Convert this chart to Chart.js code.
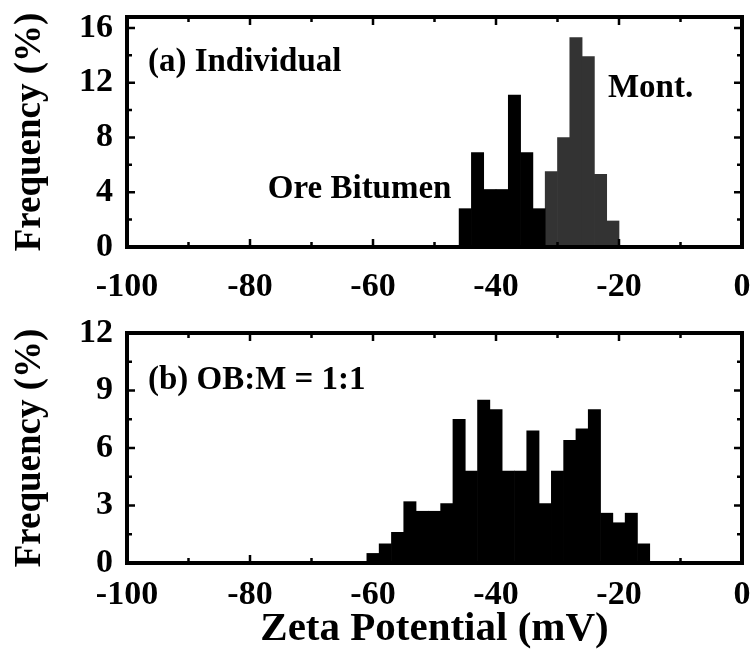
<!DOCTYPE html>
<html>
<head>
<meta charset="utf-8">
<script src="https://cdn.jsdelivr.net/npm/chart.js@4.4.0/dist/chart.umd.min.js"></script>
<style>
  body { margin: 0; background: #fff; }
  #wrap { position: relative; width: 754px; height: 672px; }
  canvas { position: absolute; left: 0; }
</style>
</head>
<body>
<div id="wrap">
  <canvas id="topPlot" width="754" height="310" style="top:0"></canvas>
  <canvas id="bottomPlot" width="754" height="362" style="top:310px"></canvas>
</div>
<script>
"use strict";
// (a) individual: bin centres (mV) and frequency (%)
const oreCentres = [-45, -43, -41, -39, -37, -35, -33];
const oreFreq = [2.8, 6.9, 4.2, 4.2, 11.1, 6.9, 2.8];
const montCentres = [-31, -29, -27, -25, -23, -21];
const montFreq = [5.5, 8.0, 15.3, 13.9, 5.3, 1.9];
// (b) OB:M = 1:1
const mixCentres = [-60, -58, -56, -54, -52, -50, -48, -46, -44, -42, -40, -38,
    -36, -34, -32, -30, -28, -26, -24, -22, -20, -18, -16];
const mixFreq = [0.5, 1.0, 1.6, 3.2, 2.7, 2.7, 3.1, 7.5, 4.8, 8.5, 8.0, 4.8,
    4.8, 6.9, 3.1, 4.8, 6.4, 7.0, 8.0, 2.6, 2.1, 2.6, 1.0];

const topNotes = [
    { text: "(a) Individual", x: -96.6, y: 13.5 },
    { text: "Mont.", x: -21.8, y: 11.6 },
    { text: "Ore Bitumen", x: -77.1, y: 4.2 },
];
const bottomNotes = [
    { text: "(b) OB:M = 1:1", x: -96.6, y: 9.5 },
];

const FONT = "'Liberation Serif', 'Times New Roman', serif";

function toPoints(xs, ys) {
    return xs.map((x, i) => ({ x: x, y: ys[i] }));
}

const frameAndTicks = {
    id: "frameAndTicks",
    afterDraw(chart) {
        const ctx = chart.ctx;
        const a = chart.chartArea;
        const xs = chart.scales.x;
        const ys = chart.scales.y;
        ctx.save();
        ctx.strokeStyle = "#000";
        ctx.lineWidth = 2.5;
        ctx.beginPath();
        const xv = xs.ticks.map((t) => t.value);
        for (let i = 0; i < xv.length; i++) {
            const list = [[xv[i], 8]];
            if (i < xv.length - 1) list.push([(xv[i] + xv[i + 1]) / 2, 5]);
            list.forEach(([v, len]) => {
                const p = xs.getPixelForValue(v);
                ctx.moveTo(p, a.bottom); ctx.lineTo(p, a.bottom - len);
                ctx.moveTo(p, a.top); ctx.lineTo(p, a.top + len);
            });
        }
        const yv = ys.ticks.map((t) => t.value);
        for (let i = 0; i < yv.length; i++) {
            const list = [[yv[i], 8]];
            if (i < yv.length - 1) list.push([(yv[i] + yv[i + 1]) / 2, 5]);
            list.forEach(([v, len]) => {
                const p = ys.getPixelForValue(v);
                ctx.moveTo(a.left, p); ctx.lineTo(a.left + len, p);
                ctx.moveTo(a.right, p); ctx.lineTo(a.right - len, p);
            });
        }
        ctx.stroke();
        ctx.lineWidth = 4;
        ctx.strokeRect(a.left, a.top, a.right - a.left, a.bottom - a.top);
        // text notes
        const notes = chart.options.plugins.notes.items;
        ctx.fillStyle = "#000";
        ctx.font = "bold 33px " + FONT;
        ctx.textAlign = "left";
        ctx.textBaseline = "middle";
        notes.forEach((n) => {
            ctx.fillText(n.text, xs.getPixelForValue(n.x), ys.getPixelForValue(n.y));
        });
        ctx.restore();
    },
};

function makeChart(id, datasets, opt) {
    const ctx = document.getElementById(id).getContext("2d");
    return new Chart(ctx, {
        type: "bar",
        data: { datasets: datasets },
        options: {
            responsive: false,
            animation: false,
            devicePixelRatio: 1,
            layout: { padding: { top: opt.top, right: 12, left: 0, bottom: 0 } },
            datasets: {
                bar: {
                    grouped: false,
                    barPercentage: 1,
                    categoryPercentage: 1,
                    borderWidth: 0,
                },
            },
            plugins: {
                legend: { display: false },
                tooltip: { enabled: false },
                notes: { items: opt.notes },
            },
            scales: {
                x: {
                    type: "linear",
                    min: -100,
                    max: 0,
                    offset: false,
                    grid: { display: false, drawTicks: false, offset: false },
                    border: { display: false },
                    ticks: {
                        stepSize: 20,
                        padding: opt.xPad,
                        color: "#000",
                        maxRotation: 0,
                        font: { family: FONT, weight: "bold", size: 34, lineHeight: 1 },
                    },
                    title: {
                        display: !!opt.xTitle,
                        text: opt.xTitle || "",
                        color: "#000",
                        padding: { top: 0, bottom: 20 },
                        font: { family: FONT, weight: "bold", size: 41, lineHeight: 1.1 },
                    },
                    afterFit: (s) => {
                        s.height = opt.xHeight;
                        s.paddingLeft = 0;
                        s.paddingRight = 0;
                    },
                },
                y: {
                    min: 0,
                    max: opt.yMax,
                    grid: { display: false, drawTicks: false },
                    border: { display: false },
                    ticks: {
                        stepSize: opt.yStep,
                        includeBounds: false,
                        padding: 14,
                        color: "#000",
                        font: { family: FONT, weight: "bold", size: 34, lineHeight: 1 },
                    },
                    title: {
                        display: true,
                        text: "Frequency (%)",
                        color: "#000",
                        padding: { top: 10, bottom: 0 },
                        font: { family: FONT, weight: "bold", size: 37, lineHeight: 1.1 },
                    },
                    afterFit: (s) => {
                        s.width = 127;
                        s.paddingTop = 0;
                        s.paddingBottom = 0;
                    },
                },
            },
        },
        plugins: [frameAndTicks],
    });
}

makeChart("topPlot", [
    { label: "Ore Bitumen", data: toPoints(oreCentres, oreFreq), backgroundColor: "#000" },
    { label: "Mont.", data: toPoints(montCentres, montFreq), backgroundColor: "#333" },
], { top: 17, xPad: 23, xHeight: 63, yMax: 16.8, yStep: 4, notes: topNotes });

makeChart("bottomPlot", [
    { label: "OB:M = 1:1", data: toPoints(mixCentres, mixFreq), backgroundColor: "#000" },
], { top: 23, xPad: 15, xHeight: 109, yMax: 12, yStep: 3, notes: bottomNotes,
     xTitle: "Zeta Potential (mV)" });
</script>
</body>
</html>
